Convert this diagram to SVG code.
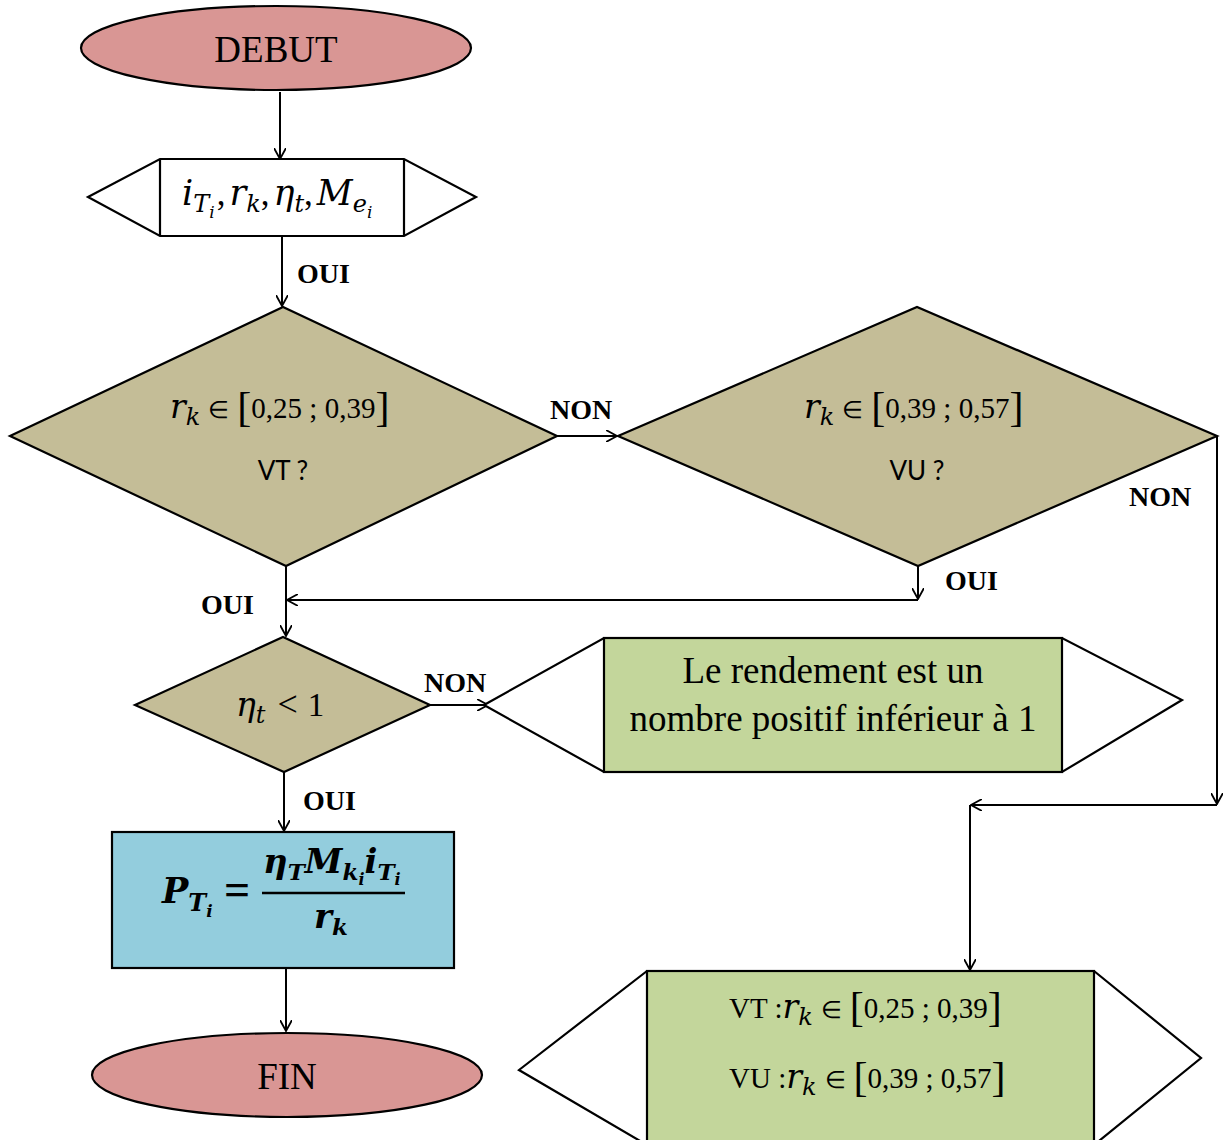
<svg xmlns="http://www.w3.org/2000/svg" width="1224" height="1140" viewBox="0 0 1224 1140">
<style>
.sh{stroke:#000;stroke-width:2.2;stroke-linejoin:miter}
.ln{stroke:#000;stroke-width:2;fill:none}
.t{font-family:"Liberation Serif","Times New Roman",serif;fill:#000}
.b{font-family:"Liberation Serif","Times New Roman",serif;font-weight:bold;font-size:28px;fill:#000}
.m{font-family:"DejaVu Serif","Liberation Serif",serif;font-style:italic;fill:#000}
.n{font-family:"Liberation Serif",serif;font-style:normal}
.s{font-family:"Lato","Liberation Sans",sans-serif;font-size:26px;fill:#000}
</style>
<defs>
<marker id="a" viewBox="0 0 12 12" refX="11" refY="6" markerWidth="12" markerHeight="12" markerUnits="userSpaceOnUse" orient="auto">
<path d="M0,0 L11,6 L0,12" fill="none" stroke="#000" stroke-width="1.8"/>
</marker>
</defs>
<g id="connectors">
<line class="ln" x1="280" y1="92" x2="280" y2="159" marker-end="url(#a)"/>
<line class="ln" x1="282" y1="236" x2="282" y2="306" marker-end="url(#a)"/>
<line class="ln" x1="557" y1="436" x2="617" y2="436" marker-end="url(#a)"/>
<line class="ln" x1="286" y1="566" x2="286" y2="636" marker-end="url(#a)"/>
<line class="ln" x1="918" y1="566" x2="918" y2="599" marker-end="url(#a)"/>
<line class="ln" x1="918" y1="600" x2="287" y2="600" marker-end="url(#a)"/>
<line class="ln" x1="1217" y1="436" x2="1217" y2="804" marker-end="url(#a)"/>
<line class="ln" x1="1217" y1="805" x2="971" y2="805" marker-end="url(#a)"/>
<line class="ln" x1="970" y1="805" x2="970" y2="970" marker-end="url(#a)"/>
<line class="ln" x1="430" y1="705" x2="488" y2="705" marker-end="url(#a)"/>
<line class="ln" x1="284" y1="772" x2="284" y2="831" marker-end="url(#a)"/>
<line class="ln" x1="286" y1="968" x2="286" y2="1031" marker-end="url(#a)"/>
<text class="b" x="297" y="283">OUI</text>
<text class="b" x="550" y="419">NON</text>
<text class="b" x="201" y="614">OUI</text>
<text class="b" x="945" y="590">OUI</text>
<text class="b" x="1129" y="506">NON</text>
<text class="b" x="424" y="692">NON</text>
<text class="b" x="303" y="810">OUI</text>
</g>
<g id="debut">
<ellipse class="sh" cx="276" cy="48" rx="195" ry="42" fill="#d99694"/>
<text class="t" x="276" y="62" font-size="37" text-anchor="middle">DEBUT</text>
</g>
<g id="input">
<polygon class="sh" points="88,197 160,159 404,159 476,197 404,236 160,236" fill="#fff"/>
<line class="sh" x1="160" y1="159" x2="160" y2="236"/>
<line class="sh" x1="404" y1="159" x2="404" y2="236"/>
<text class="m" x="182" y="205" font-size="35">i<tspan dy="7" font-size="24">T</tspan><tspan dy="6" font-size="17">i</tspan><tspan dy="-13" dx="2" class="n">,</tspan><tspan dx="4">r</tspan><tspan dy="7" font-size="24">k</tspan><tspan dy="-7" class="n">,</tspan><tspan dx="4">η</tspan><tspan dy="7" font-size="24">t</tspan><tspan dy="-7" class="n">,</tspan><tspan dx="4">M</tspan><tspan dy="7" font-size="24">e</tspan><tspan dy="6" font-size="17">i</tspan></text>
</g>
<g id="decision1">
<polygon class="sh" points="10,436 283,307 557,436 286,566" fill="#c4bd97"/>
<text class="m" x="170" y="418" font-size="33">r<tspan dy="7" font-size="24">k</tspan><tspan dy="-7" dx="8" class="n" font-size="24">∈</tspan><tspan class="n" font-size="42" dy="3" dx="8">[</tspan><tspan class="n" font-size="29" dy="-3">0,25 ; 0,39</tspan><tspan class="n" font-size="42" dy="3">]</tspan></text>
<text class="s" x="283" y="480" text-anchor="middle">VT ?</text>
</g>
<g id="decision2">
<polygon class="sh" points="618,436 917,307 1217,436 918,566" fill="#c4bd97"/>
<text class="m" x="804" y="418" font-size="33">r<tspan dy="7" font-size="24">k</tspan><tspan dy="-7" dx="8" class="n" font-size="24">∈</tspan><tspan class="n" font-size="42" dy="3" dx="8">[</tspan><tspan class="n" font-size="29" dy="-3">0,39 ; 0,57</tspan><tspan class="n" font-size="42" dy="3">]</tspan></text>
<text class="s" x="917" y="480" text-anchor="middle">VU ?</text>
</g>
<g id="decision3">
<polygon class="sh" points="135,705 283,637 430,705 284,772" fill="#c4bd97"/>
<text class="m" x="236" y="716" font-size="33">η<tspan dy="7" font-size="24">t</tspan><tspan dy="-7" dx="12" class="n" font-size="36">&lt;</tspan><tspan class="n" font-size="33" dx="10">1</tspan></text>
</g>
<g id="output1">
<polygon class="sh" points="484,705 604,638 1062,638 1182,700 1062,772 604,772" fill="#fff"/>
<rect class="sh" x="604" y="638" width="458" height="134" fill="#c3d69b"/>
<text class="t" x="833" y="683" font-size="37" text-anchor="middle">Le rendement est un</text>
<text class="t" x="833" y="731" font-size="37" text-anchor="middle">nombre positif inférieur à 1</text>
</g>
<g id="formula">
<rect class="sh" x="112" y="832" width="342" height="136" fill="#93cddd"/>
<g font-weight="bold">
<text class="m" x="162" y="903" font-size="35">P<tspan dy="8" font-size="24">T</tspan><tspan dy="6" font-size="17">i</tspan></text>
<text class="t" x="224" y="905" font-size="46">=</text>
<text class="m" x="263" y="873" font-size="34">η<tspan dy="7" font-size="23">T</tspan><tspan dy="-7">M</tspan><tspan dy="7" font-size="23">k</tspan><tspan dy="5" font-size="16">i</tspan><tspan dy="-12">i</tspan><tspan dy="7" font-size="23">T</tspan><tspan dy="5" font-size="16">i</tspan></text>
<text class="m" x="314" y="928" font-size="34">r<tspan dy="7" font-size="23">k</tspan></text>
</g>
<line x1="262" y1="893" x2="405" y2="893" stroke="#000" stroke-width="2.6"/>
</g>
<g id="fin">
<ellipse class="sh" cx="287" cy="1075" rx="195" ry="42" fill="#d99694"/>
<text class="t" x="287" y="1089" font-size="37" text-anchor="middle">FIN</text>
</g>
<g id="output2">
<polygon class="sh" points="519,1070 647,971 1094,971 1201,1058 1094,1145 647,1145" fill="#fff"/>
<rect class="sh" x="647" y="971" width="447" height="175" fill="#c3d69b"/>
<text class="t" x="729" y="1018" font-size="29">VT :<tspan class="m" font-size="33">r</tspan><tspan class="m" dy="7" font-size="24">k</tspan><tspan dy="-7" dx="8" font-size="24">∈</tspan><tspan font-size="42" dy="3" dx="8">[</tspan><tspan font-size="29" dy="-3">0,25 ; 0,39</tspan><tspan font-size="42" dy="3">]</tspan></text>
<text class="t" x="729" y="1088" font-size="29">VU :<tspan class="m" font-size="33">r</tspan><tspan class="m" dy="7" font-size="24">k</tspan><tspan dy="-7" dx="8" font-size="24">∈</tspan><tspan font-size="42" dy="3" dx="8">[</tspan><tspan font-size="29" dy="-3">0,39 ; 0,57</tspan><tspan font-size="42" dy="3">]</tspan></text>
</g>
</svg>
